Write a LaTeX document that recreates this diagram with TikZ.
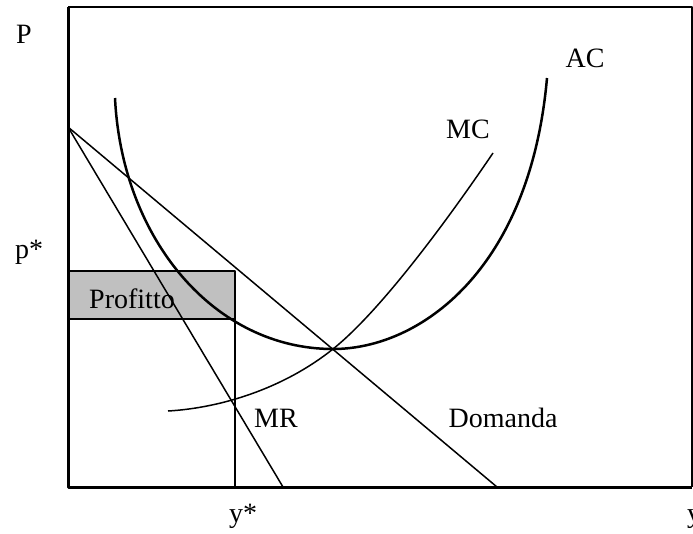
\documentclass[tikz,border=0pt]{standalone}
\usepackage{fontspec}
\setmainfont{Liberation Serif}
\usetikzlibrary{positioning}
\definecolor{profitgray}{RGB}{192,192,192}

\begin{document}
\begin{tikzpicture}[x=1pt,y=-1pt,line join=round,
  lbl/.style={anchor=base,inner sep=0pt,font=\fontsize{28}{32}\selectfont},
  curve/.style={line width=1.5pt},
  costcurve/.style={line width=2.5pt}]
\useasboundingbox (0,0) rectangle (693,533);
% key points
\coordinate (orig) at (68,487);
\coordinate (pmax) at (68,127);
\coordinate (ystar) at (235,487);
\coordinate (eq) at (333,349);
% profit rectangle
\fill[profitgray] (68,271) rectangle (235,319);
\draw[line width=2pt] (68,271) rectangle (235,319);
\draw[curve] (235,319) -- (ystar);
% demand and marginal revenue
\draw[curve] (pmax) -- (497,487);
\draw[curve] (pmax) -- (283,487);
% marginal cost
\draw[curve] (168,411) .. controls (220,408) and (283,389) .. (eq)
  .. controls (383,309) and (453,212) .. (493,153);
% average cost
\draw[costcurve] (115,98) .. controls (122,240) and (215,349) .. (eq)
  .. controls (420,349) and (530,270) .. (547,78);
% axes and frame
\draw[line width=2pt] (68,7) -- (692,7) -- (692,487);
\draw[line width=3pt] (68,7) -- (orig) -- (692,487);
% labels
\node[lbl] (Plbl) at (24,43) {P};
\node[lbl] (pstar) at (29,258) {p*};
\node[lbl] (profit) at (132,308) {Profitto};
\node[lbl] (mr) at (276,427) {MR};
\node[lbl] (dem) at (503,427) {Domanda};
\node[lbl] (ystarlbl) at (243,522) {y*};
\node[lbl,anchor=base west] (ylbl) at (687,522) {y};
\node[lbl] (ac) at (585,67) {AC};
\node[lbl] (mc) at (468,138) {MC};
\end{tikzpicture}
\end{document}
